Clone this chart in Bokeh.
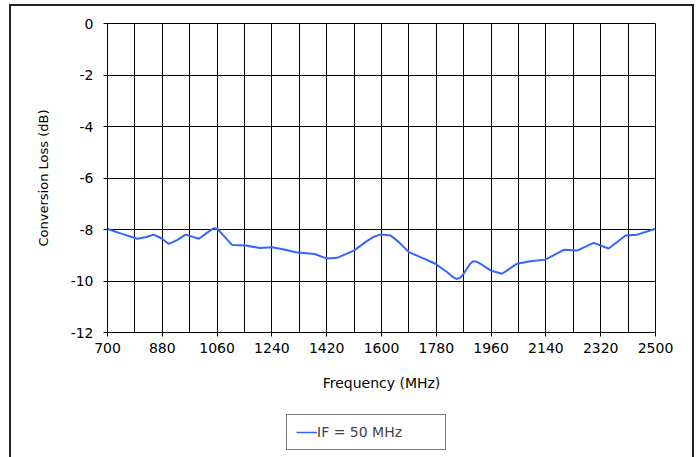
from bokeh.plotting import figure
from bokeh.layouts import column
from bokeh.models import Range1d, FixedTicker, Legend, LegendItem, PrintfTickFormatter
from bokeh.embed import file_html
from bokeh.resources import INLINE

freq = [700, 748, 797, 825, 852, 878, 901, 930, 956, 1000, 1030, 1049, 1062, 1076, 1109,
        1153, 1200, 1241, 1280, 1318, 1380, 1421, 1454, 1509, 1552, 1575, 1597, 1630,
        1657, 1690, 1728, 1777, 1816, 1835, 1846, 1858, 1870, 1890, 1901, 1912, 1925,
        1958, 1996, 2045, 2089, 2138, 2199, 2242, 2297, 2346, 2402, 2440, 2500]
loss = [-7.98, -8.17, -8.36, -8.3, -8.2, -8.35, -8.56, -8.4, -8.2, -8.36, -8.1, -7.95,
        -7.99, -8.17, -8.6, -8.62, -8.72, -8.69, -8.78, -8.88, -8.95, -9.13, -9.1, -8.82,
        -8.45, -8.28, -8.19, -8.23, -8.49, -8.88, -9.07, -9.33, -9.66, -9.85, -9.92,
        -9.88, -9.72, -9.35, -9.23, -9.25, -9.33, -9.59, -9.72, -9.33, -9.23, -9.17,
        -8.79, -8.82, -8.52, -8.74, -8.23, -8.2, -7.97]

x_ticks = list(range(700, 2501, 180))
x_grid = list(range(700, 2501, 90))
y_ticks = list(range(-12, 1, 2))
series_label = "IF = 50 MHz"
x_title = "Frequency (MHz)"
y_title = "Conversion Loss (dB)"

FONT = "DejaVu Sans"
LINE_COLOR = "#3366FF"

p = figure(width=681, height=391, output_backend="svg", toolbar_location=None,
           x_range=Range1d(700, 2500), y_range=Range1d(-12, 0),
           min_border_left=96, min_border_right=37, min_border_top=17, min_border_bottom=65,
           background_fill_color="white", border_fill_color="white")

p.outline_line_color = "black"
p.outline_line_width = 1

p.xaxis.ticker = FixedTicker(ticks=x_ticks)
p.yaxis.ticker = FixedTicker(ticks=y_ticks)
p.yaxis.formatter = PrintfTickFormatter(format="%d")
p.xgrid.ticker = FixedTicker(ticks=x_grid)
p.ygrid.ticker = FixedTicker(ticks=y_ticks)
for g in (p.xgrid, p.ygrid):
    g.grid_line_color = "black"
    g.grid_line_width = 1

for ax in (p.xaxis, p.yaxis):
    ax.axis_line_color = "black"
    ax.major_tick_line_color = "black"
    ax.minor_tick_line_color = None
    ax.major_tick_out = 4
    ax.major_tick_in = 0
    ax.major_label_text_font = FONT
    ax.major_label_text_font_size = "14px"
    ax.major_label_text_color = "black"
    ax.axis_label_text_font = FONT
    ax.axis_label_text_font_style = "normal"
    ax.axis_label_text_color = "black"

p.xaxis.axis_label = x_title
p.yaxis.axis_label = y_title
p.xaxis.axis_label_text_font_size = "14px"
p.yaxis.axis_label_text_font_size = "13px"
p.xaxis.major_label_standoff = 6
p.xaxis.axis_label_standoff = 19
p.yaxis.major_label_standoff = 10
p.yaxis.axis_label_standoff = 17

p.line(freq, loss, line_color=LINE_COLOR, line_width=2)

# legend strip below the chart
p2 = figure(width=681, height=60, output_backend="svg", toolbar_location=None,
            x_range=Range1d(700, 2500), y_range=Range1d(-12, 0),
            x_axis_type=None, y_axis_type=None,
            min_border_left=0, min_border_right=0, min_border_top=0, min_border_bottom=0,
            background_fill_color="white", border_fill_color="white")
p2.grid.visible = False
p2.outline_line_color = None
r2 = p2.line(freq, loss, line_color=LINE_COLOR, line_width=1.5)
r2.visible = False

legend = Legend(items=[LegendItem(label=series_label, renderers=[r2])],
                location=(179, 7), orientation="horizontal",
                padding=9, margin=0, glyph_width=21, glyph_height=10, label_height=10,
                label_standoff=0, label_width=119, spacing=0,
                label_text_font=FONT, label_text_font_size="14px",
                border_line_color="black", border_line_width=1,
                background_fill_color="white", background_fill_alpha=1)
p2.add_layout(legend)

layout = column(p, p2, spacing=0)
layout.styles = {"margin-left": "9px", "margin-top": "4px",
                 "border-left": "2px solid #222", "border-top": "2px solid #222",
                 "border-right": "2px solid #222"}

open("out.html", "w").write(file_html(layout, INLINE))
